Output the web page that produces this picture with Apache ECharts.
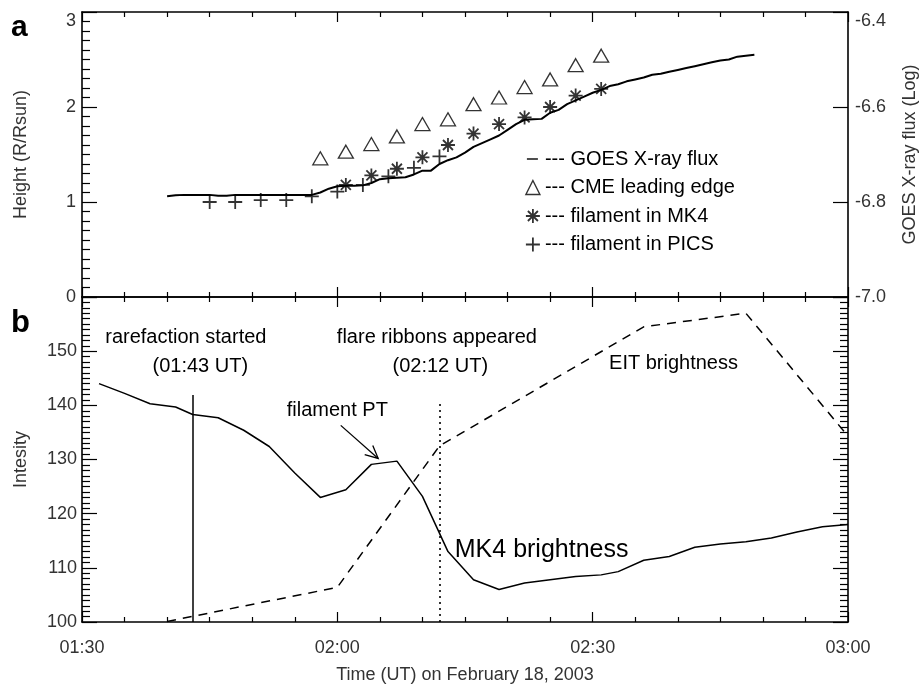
<!DOCTYPE html>
<html><head><meta charset="utf-8">
<script src="https://cdn.jsdelivr.net/npm/echarts@6/dist/echarts.min.js"></script>
<style>html,body{margin:0;padding:0;background:#fff}#c{width:919px;height:685px}</style>
</head><body><div id="c"></div>
<script>
// x values are minutes after 01:30 UT on February 18, 2003
const xTickLabels = ['01:30', '02:00', '02:30', '03:00'];
const heightTickLabels = ['0', '1', '2', '3'];
const goesTickLabels = ['-7.0', '-6.8', '-6.6', '-6.4'];
const intensityTickLabels = ['100', '110', '120', '130', '140', '150', ''];

const goesMinutes = [10,11,12,13,14,15,16,17,18,19,20,21,22,23,24,25,26,27,28,29,30,31,32,33,34,35,36,37,38,39,40,41,42,43,44,45,46,47,48,49,50,51,52,53,54,55,56,57,58,59,60,61,62,63,64,65,66,67,68,69,70,71,72,73,74,75,76,77,78,79];
const goesFlux = [
  -6.788,-6.786,-6.785,-6.785,-6.785,-6.785,-6.787,-6.787,-6.785,-6.785,
  -6.785,-6.785,-6.785,-6.785,-6.785,-6.785,-6.785,-6.785,-6.780,-6.772,
  -6.767,-6.766,-6.766,-6.765,-6.760,-6.752,-6.750,-6.749,-6.748,-6.742,
  -6.734,-6.734,-6.720,-6.712,-6.706,-6.696,-6.684,-6.676,-6.668,-6.660,
  -6.648,-6.636,-6.627,-6.626,-6.625,-6.612,-6.606,-6.594,-6.586,-6.578,
  -6.570,-6.564,-6.556,-6.552,-6.546,-6.542,-6.538,-6.532,-6.530,-6.526,
  -6.522,-6.518,-6.514,-6.510,-6.506,-6.502,-6.500,-6.494,-6.492,-6.490];

const cmeMinutes = [28,31,34,37,40,43,46,49,52,55,58,61];
const cmeHeight = [1.46,1.53,1.61,1.69,1.82,1.87,2.03,2.10,2.21,2.29,2.44,2.54];
const mk4Minutes = [31,34,37,40,43,46,49,52,55,58,61];
const mk4Height = [1.18,1.28,1.35,1.47,1.60,1.72,1.82,1.89,2.00,2.12,2.19];
const picsMinutes = [15,18,21,24,27,30,33,36,39,42];
const picsHeight = [1.00,1.00,1.02,1.02,1.06,1.11,1.18,1.27,1.36,1.48];

const mk4BrMinutes = [2,5,8,11,13,16,19,22,25,28,31,34,37,40,43,46,49,52,55,58,61,63,66,69,72,75,78,81,84,87,90];
const mk4BrValues = [144.0,142.2,140.3,139.7,138.3,137.7,135.4,132.4,127.5,123.0,124.4,129.1,129.7,123.2,113.0,107.8,106.0,107.2,107.8,108.4,108.7,109.3,111.4,112.1,113.8,114.4,114.8,115.5,116.6,117.6,118.0];
const eitMinutes = [10,30,42,66,78,90];
const eitValues = [100.1,106.4,132.5,154.5,157.0,134.3];

const rarefactionMinute = 13, rarefactionTop = 141.9;
const ribbonMinute = 42, ribbonTop = 140.8;

const annotations = [
  {text: 'rarefaction started', x: 12.2, y: 152.5, size: 20, align: 'center'},
  {text: '(01:43 UT)', x: 13.9, y: 147.2, size: 20, align: 'center'},
  {text: 'flare ribbons appeared', x: 41.7, y: 152.5, size: 20, align: 'center'},
  {text: '(02:12 UT)', x: 42.1, y: 147.2, size: 20, align: 'center'},
  {text: 'EIT brightness', x: 69.5, y: 147.8, size: 20, align: 'center'},
  {text: 'filament PT', x: 30.0, y: 139.1, size: 20, align: 'center'},
  {text: 'MK4 brightness', x: 43.8, y: 113.3, size: 25, align: 'left'}
];
const arrowTail = [30.4, 136.3], arrowTip = [34.8, 130.2];

const zip = (a, b) => a.map((v, i) => [v, b[i]]);
const FF = '"Liberation Sans", Arial, Helvetica, sans-serif';
const TC = '#333';
const asteriskPath = 'path://M0,7L14,7M7,0L7,14M2,2L12,12M12,2L2,12';
const plusPath = 'path://M0,7L14,7M7,0L7,14';

function xAxisCfg(gridIndex, position, showLabels, name) {
  return {
    type: 'value', gridIndex, position, min: 0, max: 90, interval: 30,
    axisLine: {show: true, onZero: false, lineStyle: {color: '#000', width: 1.6}},
    axisTick: {show: true, inside: true, length: 10, lineStyle: {color: '#000', width: 1.2}},
    minorTick: {show: true, splitNumber: 6, length: 5, lineStyle: {color: '#000', width: 1.2}},
    splitLine: {show: false}, minorSplitLine: {show: false},
    axisLabel: {show: showLabels, margin: 17, fontSize: 18, color: TC, fontFamily: FF,
      showMinLabel: true, showMaxLabel: true,
      formatter: v => xTickLabels[Math.round(v / 30)]},
    name: name || '', nameLocation: 'middle', nameGap: 44,
    nameTextStyle: {fontSize: 18, color: TC, fontFamily: FF}
  };
}
function yAxisCfg(o) {
  return Object.assign({
    type: 'value', onZero: false,
    axisLine: {show: true, onZero: false, lineStyle: {color: '#000', width: 1.6}},
    axisTick: {show: true, inside: true, length: 15, lineStyle: {color: '#000', width: 1.2}},
    splitLine: {show: false}, minorSplitLine: {show: false},
    nameLocation: 'middle', nameRotate: 90,
    nameTextStyle: {fontSize: 18, color: TC, fontFamily: FF}
  }, o);
}

const option = {
  animation: false,
  backgroundColor: '#fff',
  grid: [
    {left: 82, right: 71, top: 12, height: 285, outerBoundsMode: 'none', containLabel: false},
    {left: 82, right: 71, top: 297, height: 325, outerBoundsMode: 'none', containLabel: false}
  ],
  xAxis: [
    xAxisCfg(0, 'bottom', false),
    xAxisCfg(0, 'top', false),
    xAxisCfg(1, 'bottom', true, 'Time (UT) on February 18, 2003'),
    xAxisCfg(1, 'top', false)
  ],
  yAxis: [
    yAxisCfg({gridIndex: 0, position: 'left', min: 0, max: 3, interval: 1,
      minorTick: {show: true, splitNumber: 10, length: 8, lineStyle: {color: '#000', width: 1.2}},
      axisLabel: {margin: 6, fontSize: 18, color: TC, fontFamily: FF, verticalAlignMaxLabel: 'top',
        formatter: v => heightTickLabels[Math.round(v)]},
      name: 'Height (R/Rsun)', nameGap: 52}),
    yAxisCfg({gridIndex: 0, position: 'right', min: -7.0, max: -6.4, interval: 0.2,
      minorTick: {show: false},
      axisLabel: {margin: 7, fontSize: 18, color: TC, fontFamily: FF, verticalAlignMaxLabel: 'top',
        formatter: v => goesTickLabels[Math.round((v + 7) / 0.2)]},
      name: 'GOES X-ray flux (Log)', nameGap: 53}),
    yAxisCfg({gridIndex: 1, position: 'left', min: 100, max: 160, interval: 10,
      minorTick: {show: true, splitNumber: 10, length: 8, lineStyle: {color: '#000', width: 1.2}},
      axisLabel: {margin: 5, fontSize: 18, color: TC, fontFamily: FF,
        formatter: v => intensityTickLabels[Math.round((v - 100) / 10)]},
      name: 'Intesity', nameGap: 52}),
    yAxisCfg({gridIndex: 1, position: 'right', min: 100, max: 160, interval: 10,
      minorTick: {show: true, splitNumber: 10, length: 8, lineStyle: {color: '#000', width: 1.2}},
      axisLabel: {show: false}})
  ],
  legend: {
    orient: 'vertical', left: 525, top: 149, itemWidth: 14, itemHeight: 14, itemGap: 8.5,
    selectedMode: false, padding: 0,
    textStyle: {fontSize: 20, color: '#000', fontFamily: FF, lineHeight: 20},
    formatter: n => '--- ' + n,
    data: [
      {name: 'GOES X-ray flux', icon: 'path://M0,0M1,6.3L12,6.3L12,7.7L1,7.7ZM14,14',
        itemStyle: {color: '#000', borderWidth: 0}},
      {name: 'CME leading edge', icon: 'triangle',
        itemStyle: {color: '#fff', borderColor: '#000', borderWidth: 1.4}},
      {name: 'filament in MK4', icon: asteriskPath,
        itemStyle: {color: 'transparent', borderColor: '#000', borderWidth: 1.8}},
      {name: 'filament in PICS', icon: plusPath,
        itemStyle: {color: 'transparent', borderColor: '#000', borderWidth: 1.8}}
    ]
  },
  series: [
    {name: 'GOES X-ray flux', type: 'line', xAxisIndex: 0, yAxisIndex: 1,
      data: zip(goesMinutes, goesFlux), symbol: 'none', showSymbol: false, silent: true,
      lineStyle: {color: '#000', width: 2}, itemStyle: {color: '#000'}},
    {name: 'CME leading edge', type: 'scatter', xAxisIndex: 0, yAxisIndex: 0,
      data: zip(cmeMinutes, cmeHeight), symbol: 'triangle', symbolSize: [15, 13], silent: true,
      itemStyle: {color: '#fff', borderColor: '#000', borderWidth: 1.3}},
    {name: 'filament in MK4', type: 'scatter', xAxisIndex: 0, yAxisIndex: 0,
      data: zip(mk4Minutes, mk4Height), symbol: asteriskPath, symbolSize: 14, silent: true,
      itemStyle: {color: 'transparent', borderColor: '#000', borderWidth: 1.8}},
    {name: 'filament in PICS', type: 'scatter', xAxisIndex: 0, yAxisIndex: 0,
      data: zip(picsMinutes, picsHeight), symbol: plusPath, symbolSize: 14, silent: true,
      itemStyle: {color: 'transparent', borderColor: '#000', borderWidth: 1.8}},
    {name: 'MK4 brightness', type: 'line', xAxisIndex: 2, yAxisIndex: 2,
      data: zip(mk4BrMinutes, mk4BrValues), symbol: 'none', showSymbol: false, silent: true,
      lineStyle: {color: '#000', width: 1.5}, itemStyle: {color: '#000'},
      markLine: {symbol: 'none', silent: true, label: {show: false}, animation: false,
        data: [
          [{coord: [rarefactionMinute, 100], lineStyle: {type: 'solid', width: 1.5, color: '#000'}},
           {coord: [rarefactionMinute, rarefactionTop]}],
          [{coord: [ribbonMinute, 100], lineStyle: {type: [2, 4], width: 1.6, color: '#000'}},
           {coord: [ribbonMinute, ribbonTop]}]
        ]}},
    {name: 'EIT brightness', type: 'line', xAxisIndex: 2, yAxisIndex: 2,
      data: zip(eitMinutes, eitValues), symbol: 'none', showSymbol: false, silent: true,
      lineStyle: {color: '#000', width: 1.5, type: [9, 7]}, itemStyle: {color: '#000'}}
  ]
};

const chart = echarts.init(document.getElementById('c'), null, {renderer: 'canvas'});
chart.setOption(option);

const toPx = p => chart.convertToPixel({xAxisIndex: 2, yAxisIndex: 2}, p);
const elements = [];
annotations.forEach(a => {
  const p = toPx([a.x, a.y]);
  elements.push({type: 'text', x: p[0], y: p[1], silent: true,
    style: {text: a.text, font: a.size + 'px ' + FF, fill: '#000',
      align: a.align, textAlign: a.align, verticalAlign: 'middle', textVerticalAlign: 'middle'}});
});
const t0 = toPx(arrowTail), t1 = toPx(arrowTip);
const dx = t1[0] - t0[0], dy = t1[1] - t0[1], L = Math.hypot(dx, dy);
const ux = dx / L, uy = dy / L, hl = 14, ang = 0.45;
const w1 = [t1[0] - hl * (ux * Math.cos(ang) - uy * Math.sin(ang)), t1[1] - hl * (uy * Math.cos(ang) + ux * Math.sin(ang))];
const w2 = [t1[0] - hl * (ux * Math.cos(-ang) - uy * Math.sin(-ang)), t1[1] - hl * (uy * Math.cos(-ang) + ux * Math.sin(-ang))];
elements.push({type: 'polyline', silent: true, shape: {points: [t0, t1]}, style: {stroke: '#000', lineWidth: 1.3, fill: null}});
elements.push({type: 'polyline', silent: true, shape: {points: [w1, t1, w2]}, style: {stroke: '#000', lineWidth: 1.3, fill: null}});
elements.push({type: 'text', x: 11, y: 28, silent: true,
  style: {text: 'a', font: 'bold 30px ' + FF, fill: '#000', align: 'left', textAlign: 'left', verticalAlign: 'middle', textVerticalAlign: 'middle'}});
elements.push({type: 'text', x: 11, y: 323, silent: true,
  style: {text: 'b', font: 'bold 31px ' + FF, fill: '#000', align: 'left', textAlign: 'left', verticalAlign: 'middle', textVerticalAlign: 'middle'}});
chart.setOption({graphic: {elements}});
</script>
</body></html>
